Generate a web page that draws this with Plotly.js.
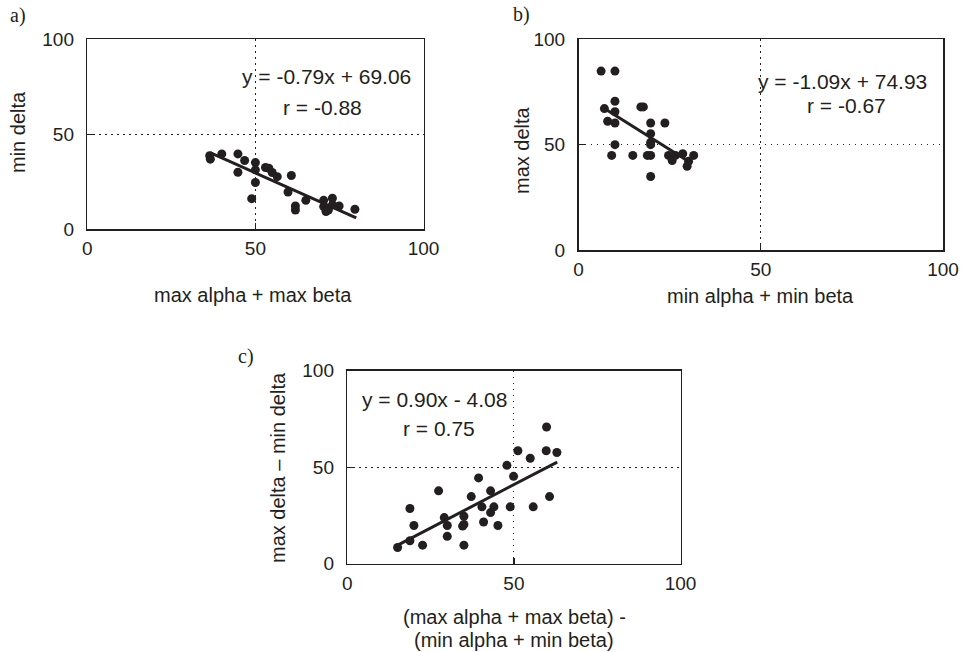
<!DOCTYPE html>
<html>
<head>
<meta charset="utf-8">
<script src="https://cdn.plot.ly/plotly-3.0.1.min.js"></script>
<style>html,body{margin:0;padding:0;background:#fff;}#chart{width:963px;height:652px;}</style>
</head>
<body>
<div id="chart"></div>
<script>
// Panel a: max alpha + max beta vs min delta
const aX = [36.4,36.6,40.0,44.8,46.8,44.8,50.0,50.0,50.0,48.9,53.0,54.0,55.0,56.5,60.7,59.7,61.9,61.9,65.0,70.3,70.3,71.0,72.9,72.9,74.9,79.6,71.7];
const aY = [38.6,36.8,39.6,39.6,36.1,29.9,35.0,31.2,24.5,16.0,32.4,32.0,29.8,27.6,28.2,19.5,12.1,10.0,15.1,15.1,11.8,9.2,16.2,12.7,12.1,10.4,10.0];
const aFit = {slope: -0.79, intercept: 69.06, r: -0.88, xFrom: 36.5, xTo: 80};

// Panel b: min alpha + min beta vs max delta
const bX = [6.2,10.0,10.0,7.1,10.0,8.0,10.0,17.1,17.8,19.8,23.7,19.8,19.8,19.8,10.0,9.1,14.9,18.9,19.8,24.7,25.7,26.6,28.6,29.8,31.6,19.8,30.2];
const bY = [84.9,84.9,70.6,67.1,65.6,61.1,60.3,67.9,67.9,60.3,60.3,55.2,51.1,50.0,50.0,44.9,44.9,44.9,44.9,44.9,42.5,44.9,45.7,39.7,44.9,34.9,42.1];
const bFit = {slope: -1.09, intercept: 74.93, r: -0.67, xFrom: 7, xTo: 31};

// Panel c: difference vs difference
const cX = [15.1,18.8,22.6,20.0,18.8,27.4,29.1,30.0,30.0,35.0,34.6,35.0,35.0,37.2,39.4,40.4,43.0,40.9,43.0,44.0,45.2,48.9,47.9,49.9,51.2,54.9,55.8,59.8,59.7,62.9,60.7];
const cY = [8.3,11.8,9.5,19.7,28.5,37.7,23.8,19.7,14.1,24.5,19.4,20.2,9.5,34.7,44.4,29.4,37.7,21.5,26.4,29.4,19.7,29.4,50.9,45.2,58.5,54.6,29.4,70.8,58.5,57.6,34.7];
const cFit = {slope: 0.90, intercept: -4.08, r: 0.75, xFrom: 15, xTo: 63};

const tickVals = [0, 50, 100];
const tickText = ["0", "50", "100"];

const INK = "#231f20";
const SANS = "Liberation Sans, Arial, sans-serif";
const SERIF = "Liberation Serif, Times New Roman, serif";

function fmt(v){ return v.toFixed(2); }
function eqText(f){
  const sign = f.intercept < 0 ? " - " : " + ";
  return "y = " + fmt(f.slope) + "x" + sign + fmt(Math.abs(f.intercept));
}

function scatter(x, y, xa, ya){
  return {x: x, y: y, xaxis: xa, yaxis: ya, type: "scatter", mode: "markers",
    marker: {color: INK, size: 9}, hoverinfo: "skip", showlegend: false, cliponaxis: false};
}
function fitLine(f, xa, ya){
  const xs = [f.xFrom, f.xTo];
  return {x: xs, y: xs.map(v => f.slope * v + f.intercept), xaxis: xa, yaxis: ya,
    type: "scatter", mode: "lines", line: {color: INK, width: 3}, hoverinfo: "skip", showlegend: false};
}

const data = [
  scatter(aX, aY, "x", "y"), fitLine(aFit, "x", "y"),
  scatter(bX, bY, "x2", "y2"), fitLine(bFit, "x2", "y2"),
  scatter(cX, cY, "x3", "y3"), fitLine(cFit, "x3", "y3")
];

function axis(domain, anchor, isX){
  return {
    domain: domain, anchor: anchor, range: [0, 100], autorange: false,
    tickmode: "array", tickvals: tickVals, ticktext: tickText,
    ticks: "inside", ticklen: 6, tickwidth: 1.2, tickcolor: INK,
    showline: true, mirror: true, linecolor: INK, linewidth: 1.5,
    showgrid: true, gridcolor: INK, griddash: "1.5px,4.5px", gridwidth: 1,
    zeroline: false, fixedrange: true,
    ticklabelstandoff: isX ? 2 : 8,
    tickfont: {family: SANS, size: 19, color: INK}
  };
}

const W = 963, H = 652;
const px = v => v / W;
const py = v => 1 - v / H;

const layout = {
  width: W, height: H,
  margin: {l: 0, r: 0, t: 0, b: 0},
  paper_bgcolor: "#fff", plot_bgcolor: "#fff",
  showlegend: false,
  xaxis:  axis([px(87.3), px(423.5)], "y", true),
  yaxis:  axis([py(229), py(39.3)], "x", false),
  xaxis2: axis([px(578.5), px(943)], "y2", true),
  yaxis2: axis([py(250), py(39.3)], "x2", false),
  xaxis3: axis([px(347.3), px(680.5)], "y3", true),
  yaxis3: axis([py(563.5), py(370.7)], "x3", false),
  annotations: []
};

function ann(text, x, y, opts){
  return Object.assign({text: text, x: px(x), y: py(y), xref: "paper", yref: "paper",
    showarrow: false, xanchor: "center", yanchor: "middle", borderpad: 0,
    font: {family: SANS, size: 20, color: INK}}, opts || {});
}
const eqFont = {family: SANS, size: 21, color: INK};

layout.annotations.push(
  // panel labels
  ann("a)", 18, 16, {font: {family: SERIF, size: 20, color: INK}}),
  ann("b)", 521, 15, {font: {family: SERIF, size: 20, color: INK}}),
  ann("c)", 246, 357, {font: {family: SERIF, size: 20, color: INK}}),
  // axis titles
  ann("max alpha + max beta", 253, 295),
  ann("min delta", 18, 132, {textangle: -90}),
  ann("min alpha + min beta", 760, 296),
  ann("max delta", 522, 150, {textangle: -90}),
  ann("(max alpha + max beta) -", 514, 617),
  ann("(min alpha + min beta)", 514, 640),
  ann("max delta \u2013 min delta", 278, 468, {textangle: -90}),
  // regression text
  ann(eqText(aFit), 326, 77, {font: eqFont}),
  ann("r = " + fmt(aFit.r), 322, 107, {font: eqFont}),
  ann(eqText(bFit), 842, 82, {font: eqFont}),
  ann("r = " + fmt(bFit.r), 846, 106, {font: eqFont}),
  ann(eqText(cFit), 434, 399, {font: eqFont}),
  ann("r = " + cFit.r.toFixed(2), 439, 428, {font: eqFont})
);

Plotly.newPlot("chart", data, layout, {staticPlot: true, displayModeBar: false});
</script>
</body>
</html>
